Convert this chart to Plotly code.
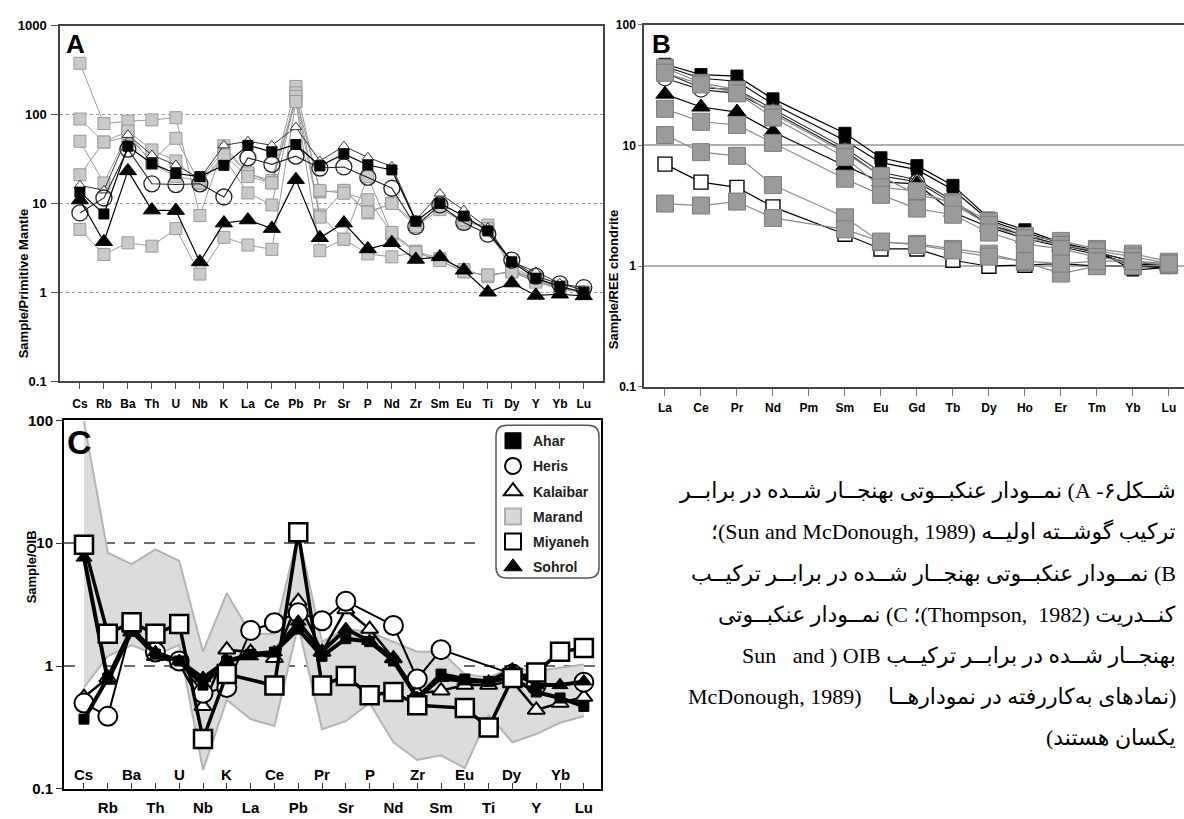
import math
import plotly.graph_objects as go

W, H = 1184, 819

# ---------------- element orders ----------------
spider_elements = ["Cs", "Rb", "Ba", "Th", "U", "Nb", "K", "La", "Ce", "Pb", "Pr",
                   "Sr", "P", "Nd", "Zr", "Sm", "Eu", "Ti", "Dy", "Y", "Yb", "Lu"]
ree_elements = ["La", "Ce", "Pr", "Nd", "Pm", "Sm", "Eu", "Gd", "Tb", "Dy",
                "Ho", "Er", "Tm", "Yb", "Lu"]

# ---------------- A: primitive-mantle normalised ----------------
pm_ahar = [13.4, 7.6, 44, 28, 21.7, 20, 26.8, 45, 38, 46, 26.4, 36, 27, 23.8, 6.3, 10, 7.2, 4.9, 2.2, 1.44, 1.16, 1.0]
pm_heris = [7.8, 11.5, 40.8, 16.6, 16.3, 16.6, 11.8, 32.5, 27.5, 34, 25, 25.7, 19.6, 14.8, 5.5, 9.6, 6.1, 4.5, 2.3, 1.52, 1.24, 1.13]
pm_kalaibar = [16, 14, 59, 35, 27, 19, 45, 50, 45, 72, 30, 44, 33, 26, 6.5, 12.9, 8.4, 5.3, 2.2, 1.7, 1.26, 1.05]
pm_sohrol = [10.9, 3.7, 23.2, 8.4, 8.3, 2.19, 6.0, 6.5, 5.2, 18.5, 4.1, 6.0, 3.07, 3.6, 2.34, 2.5, 1.77, 1.0, 1.27, 0.92, 0.95, 0.91]
pm_marand_1 = [377, 79, 84, 87, 92, 7.3, 44.5, 21.6, 18.1, 207, 13.4, 14, 7.8, 10, 6.0, 9.0, 6.0, 5.7, 1.9, 1.45, 1.16, 1.0]
pm_marand_2 = [89, 49, 56, 30, 54, 16.9, 32.6, 13.1, 9.6, 175, 7.4, 3.95, 20, 4.5, 2.8, 2.28, 1.7, 1.56, 1.7, 1.35, 1.1, 1.0]
pm_marand_3 = [50, 17, 62, 28, 20, 18, 40, 22, 17, 142, 7.0, 14, 8, 10, 5.5, 8.5, 6.5, 5.2, 1.8, 1.4, 1.15, 0.98]
pm_marand_4 = [21, 49, 65, 40, 30, 17, 35, 20, 17, 160, 14, 13, 11, 4.7, 2.9, 2.4, 1.8, 1.5, 1.75, 1.4, 1.1, 1.0]
pm_marand_5 = [5.1, 2.66, 3.6, 3.3, 5.2, 1.6, 4.15, 3.4, 3.04, 140, 2.94, 3.95, 2.7, 2.5, 2.8, 2.28, 1.7, 1.56, 1.7, 1.3, 1.1, 1.0]

# ---------------- B: chondrite-normalised REE ----------------
ree_ahar_1 = [47, 38.6, 37.5, 24.3, None, 12.6, 7.9, 6.8, 4.67, 2.5, 2.0, 1.57, 1.35, 0.93, 0.98]
ree_ahar_2 = [45, 36, 34, 22, None, 11, 7.2, 6.3, 4.3, 2.4, 1.9, 1.55, 1.3, 1.0, 0.97]
ree_heris = [36, 29, 27, 19, None, 9, 5.6, 5.0, 3.3, 2.2, 1.8, 1.5, 1.3, 1.1, 1.0]
ree_kalaibar = [40, 30, 29, 20, None, 9.5, 6.0, 5.2, 3.5, 2.2, 1.8, 1.5, 1.3, 1.1, 1.0]
ree_sohrol = [26.6, 20.8, 18.9, 13, None, 6.8, 5.0, 4.8, 2.8, 2.1, 1.7, 1.45, 1.25, 1.05, 1.0]
ree_miyaneh = [7.0, 4.97, 4.5, 3.1, None, 1.84, 1.39, 1.39, 1.12, 1.0, 1.02, 1.05, 1.0, 1.0, 1.0]
ree_marand_1 = [44, 33, 29, 18.3, None, 8.7, 5.6, 3.9, 3.4, 2.36, 1.78, 1.62, 1.39, 1.27, 1.09]
ree_marand_2 = [20.1, 15.7, 14.8, 10.5, None, 5.3, 3.9, 3.0, 2.67, 1.9, 1.53, 1.39, 1.19, 1.09, 1.02]
ree_marand_3 = [12.2, 8.8, 8.2, 4.7, None, 2.54, 1.58, 1.53, 1.39, 1.27, 1.08, 0.87, 1.0, 1.0, 1.02]
ree_marand_4 = [3.3, 3.18, 3.43, 2.51, None, 2.02, 1.6, 1.5, 1.35, 1.2, 1.1, 1.05, 1.1, 1.1, 1.05]
ree_marand_5 = [40, 32, 27, 17, None, 8, 4.5, 4.2, 3.3, 2.2, 1.7, 1.5, 1.35, 1.2, 1.05]

# ---------------- C: OIB-normalised ----------------
oib_ahar = [0.37, 0.8, 2.0, 1.25, 1.1, 0.7, 1.1, 1.25, 1.3, 2.0, 1.2, 1.67, 1.58, 1.1, 0.55, 0.86, 0.785, 0.75, 0.8, 0.615, 0.55, 0.47]
oib_heris = [0.50, 0.39, 2.1, 1.3, 1.1, 0.6, 0.67, 1.95, 2.25, 2.72, 2.34, 3.37, None, 2.14, 0.785, 1.36, None, None, 0.86, 0.7, None, 0.74]
oib_kalaibar = [0.56, 0.8, 1.9, 1.2, 1.05, 0.47, 1.36, 1.3, 1.16, 3.37, 1.3, 2.89, 2.0, 1.15, 0.6, 0.63, 0.7, 0.7, 0.75, 0.44, 0.5, 0.56]
oib_sohrol = [7.64, 0.76, 1.9, 1.3, 1.1, 0.8, 1.1, 1.2, 1.3, 2.3, 1.31, 2.0, 1.6, 1.15, 0.55, 0.8, 0.75, 0.75, 0.94, 0.7, 0.7, 0.75]
oib_miyaneh = [9.73, 1.83, 2.27, 1.83, 2.2, 0.255, 0.86, None, 0.695, 12.25, 0.695, 0.83, 0.58, 0.615, 0.48, None, 0.455, 0.316, 0.8, 0.885, 1.31, 1.40]
oib_marand_high = [98, 8.36, 6.76, 8.89, 7.18, 1.31, 3.92, 1.83, 1.83, 12, 1.58, 2.01, 1.89, 1.58, 1.31, 1.31, 0.86, 0.81, 0.97, 0.91, 0.97, 1.03]
oib_marand_low = [0.67, 1.2, 1.48, 1.24, 1.48, 0.143, 0.53, 0.37, 0.325, 2.14, 0.306, 0.356, 0.50, 0.24, 0.172, 0.188, 0.148, 0.4, 0.24, 0.28, 0.346, 0.39]

groups = ["Ahar", "Heris", "Kalaibar", "Marand", "Miyaneh", "Sohrol"]

caption_lines = [
    "شــکل۶- A) نمــودار عنکبــوتی بهنجــار شــده در برابــر",
    "ترکیب گوشــته اولیــه (Sun and McDonough, 1989)؛",
    "B) نمــودار عنکبــوتی بهنجــار شــده در برابــر ترکیــب",
    "کنــدریت (Thompson,  1982)؛ C) نمــودار عنکبــوتی",
    "بهنجــار شــده در برابــر ترکیــب OIB\u200f (\u200f Sun   and",
    "(نمادهای به‌کاررفته در نمودارهــا",
    "یکسان هستند)",
]
caption_line6_latin = "McDonough, 1989)"

SANS = "Liberation Sans, Arial, sans-serif"
SERIF = "Liberation Serif, Times New Roman, DejaVu Sans, serif"


def px_x(p):
    return p / W


def px_y(p):
    return 1 - p / H


fig = go.Figure()

sp_x = list(range(len(spider_elements)))
ree_x = list(range(len(ree_elements)))


def series(xs, ys, xa, ya, sym, size, fill, edge, edge_w, line_color, line_w):
    fig.add_trace(go.Scatter(
        x=xs, y=ys, xaxis=xa, yaxis=ya, mode="lines+markers", connectgaps=True,
        showlegend=False, hoverinfo="skip",
        line=dict(color=line_color, width=line_w),
        marker=dict(symbol=sym, size=size, color=fill, line=dict(color=edge, width=edge_w)),
    ))


# ---- Panel A ----
for vals in [pm_marand_1, pm_marand_2, pm_marand_3, pm_marand_4, pm_marand_5]:
    series(sp_x, vals, "x", "y", "square", 12, "#c9c9c9", "#9a9a9a", 1, "#9a9a9a", 1)
series(sp_x, pm_kalaibar, "x", "y", "triangle-up", 10, "white", "#333", 1, "#333", 1)
series(sp_x, pm_heris, "x", "y", "circle", 16, "rgba(255,255,255,0)", "#222", 1.3, "#222", 1.1)
series(sp_x, pm_ahar, "x", "y", "square", 10, "black", "black", 1, "black", 1.2)
series(sp_x, pm_sohrol, "x", "y", "triangle-up", 15, "black", "black", 1, "black", 1.2)

# ---- Panel B ----
series(ree_x, ree_ahar_1, "x2", "y2", "square", 12, "black", "black", 1, "black", 1.2)
series(ree_x, ree_ahar_2, "x2", "y2", "square", 11, "black", "black", 1, "black", 1.2)
series(ree_x, ree_heris, "x2", "y2", "circle", 15, "white", "#222", 1.2, "#222", 1.1)
series(ree_x, ree_kalaibar, "x2", "y2", "triangle-up", 12, "white", "#222", 1.2, "#222", 1.1)
series(ree_x, ree_sohrol, "x2", "y2", "triangle-up", 16, "black", "black", 1, "black", 1.2)
series(ree_x, ree_miyaneh, "x2", "y2", "square", 14, "white", "black", 1.4, "black", 1.2)
for vals in [ree_marand_1, ree_marand_5, ree_marand_2, ree_marand_3, ree_marand_4]:
    series(ree_x, vals, "x2", "y2", "square", 17, "#9b9b9b", "#7d7d7d", 1, "#8a8a8a", 1.2)

# ---- Panel C ----
fig.add_trace(go.Scatter(x=sp_x, y=oib_marand_low, xaxis="x3", yaxis="y3", mode="lines",
                         line=dict(color="#b4b4b4", width=2), showlegend=False, hoverinfo="skip"))
fig.add_trace(go.Scatter(x=sp_x, y=oib_marand_high, xaxis="x3", yaxis="y3", mode="lines",
                         fill="tonexty", fillcolor="#dcdcdc",
                         line=dict(color="#b4b4b4", width=2), showlegend=False, hoverinfo="skip"))
series(sp_x, oib_kalaibar, "x3", "y3", "triangle-up", 15, "white", "black", 2, "black", 2.5)
series(sp_x, oib_heris, "x3", "y3", "circle", 19, "white", "black", 2, "black", 2)
series(sp_x, oib_ahar, "x3", "y3", "square", 10, "black", "black", 1, "black", 4)
series(sp_x, oib_sohrol, "x3", "y3", "triangle-up", 14, "black", "black", 1, "black", 4)
series(sp_x, oib_miyaneh, "x3", "y3", "square", 18, "white", "black", 2.5, "black", 3.5)

# legend entries
legend_style = {
    "Ahar": dict(symbol="square", color="black", line=dict(color="black", width=1)),
    "Heris": dict(symbol="circle", color="white", line=dict(color="black", width=2)),
    "Kalaibar": dict(symbol="triangle-up", color="white", line=dict(color="black", width=2)),
    "Marand": dict(symbol="square", color="#d8d8d8", line=dict(color="#b0b0b0", width=2)),
    "Miyaneh": dict(symbol="square", color="white", line=dict(color="black", width=2)),
    "Sohrol": dict(symbol="triangle-up", color="black", line=dict(color="black", width=1)),
}
for g in groups:
    fig.add_trace(go.Scatter(x=[None], y=[None], xaxis="x3", yaxis="y3", mode="markers",
                             name=g, legendgroup=g, showlegend=True,
                             marker=dict(size=16, **legend_style[g])))

bold = dict(family=SANS, color="black", weight="bold")

log_ticks = [0.1, 1, 10, 100, 1000]
log_text = ["0.1", "1", "10", "100", "1000"]

fig.update_layout(
    width=W, height=H, autosize=False,
    margin=dict(l=0, r=0, t=0, b=0),
    paper_bgcolor="white", plot_bgcolor="white",
    showlegend=True,
    legend=dict(x=px_x(493), y=px_y(425), xanchor="left", yanchor="top",
                bgcolor="rgba(0,0,0,0)", traceorder="grouped", tracegroupgap=4,
                font=dict(family=SANS, size=14, color="#222", weight="bold"),
                itemclick=False, itemdoubleclick=False),
    xaxis=dict(domain=[px_x(60), px_x(603)], range=[-0.83, 21.8],
               tickvals=sp_x, ticktext=spider_elements, ticks="outside", ticklen=6,
               tickcolor="#555", tickfont=dict(size=12, **bold), ticklabelstandoff=5,
               showline=True, linecolor="#444", linewidth=1.5, mirror=True,
               showgrid=False, zeroline=False, anchor="y"),
    yaxis=dict(domain=[px_y(380), px_y(17)], type="log", range=[-1, 3],
               tickvals=log_ticks, ticktext=log_text, ticks="outside", ticklen=7,
               tickcolor="#555", tickfont=dict(size=13, **bold), ticklabelstandoff=2,
               showline=True, linecolor="#444", linewidth=1.5, mirror=True,
               showgrid=True, gridcolor="#9a9a9a", gridwidth=1, griddash="3px,3px",
               zeroline=False, anchor="x"),
    xaxis2=dict(domain=[px_x(644), 1.0], range=[-0.583, 14.42],
                tickvals=ree_x, ticktext=ree_elements, ticks="outside", ticklen=7,
                tickcolor="#777", tickfont=dict(size=12, **bold), ticklabelstandoff=2,
                showline=True, linecolor="#444", linewidth=1.5, mirror=True,
                showgrid=False, zeroline=False, anchor="y2"),
    yaxis2=dict(domain=[px_y(386), px_y(16)], type="log", range=[-1, 2],
                tickvals=log_ticks[:4], ticktext=log_text[:4], ticks="outside", ticklen=4,
                tickcolor="#777", tickfont=dict(size=12, **bold),
                showline=True, linecolor="#444", linewidth=1.5, mirror=False,
                showgrid=True, gridcolor="#b0b0b0", gridwidth=1.5,
                zeroline=False, anchor="x2"),
    xaxis3=dict(domain=[px_x(64), px_x(601)], range=[-0.84, 21.72],
                tickvals=sp_x,
                ticktext=[e if i % 2 == 1 else "" for i, e in enumerate(spider_elements)],
                ticks="inside", ticklen=6, tickcolor="#333",
                tickfont=dict(size=15, **bold), ticklabelstandoff=4,
                showline=True, linecolor="black", linewidth=2, mirror=True,
                showgrid=False, zeroline=False, anchor="y3"),
    yaxis3=dict(domain=[px_y(796.5), px_y(420)], type="log", range=[-1, 2],
                tickvals=log_ticks[:4], ticktext=log_text[:4], ticks="outside", ticklen=6,
                tickcolor="#333", tickfont=dict(size=15, **bold),
                showline=True, linecolor="black", linewidth=2, mirror=True,
                showgrid=True, gridcolor="#6a6a6a", gridwidth=1.5, griddash="11px,9px",
                zeroline=False, anchor="x3"),
)

annotations = []
# upper row of element labels inside panel C
for i, e in enumerate(spider_elements):
    if i % 2 == 0:
        annotations.append(dict(x=i, y=0.04, xref="x3", yref="y3 domain", text=e,
                                showarrow=False, yanchor="middle",
                                font=dict(size=15, **bold)))

# panel letters
annotations += [
    dict(x=px_x(64), y=px_y(18), xref="paper", yref="paper", text="A", showarrow=False,
         xanchor="left", yanchor="top", font=dict(size=26, **bold)),
    dict(x=px_x(650), y=px_y(18), xref="paper", yref="paper", text="B", showarrow=False,
         xanchor="left", yanchor="top", font=dict(size=26, **bold)),
    dict(x=px_x(65), y=px_y(421), xref="paper", yref="paper", text="C", showarrow=False,
         xanchor="left", yanchor="top", font=dict(size=34, **bold)),
]

# y-axis titles
annotations += [
    dict(x=px_x(14), y=px_y(202), xref="paper", yref="paper", text="Sample/Primitive Mantle",
         textangle=-90, showarrow=False, font=dict(size=13, **bold)),
    dict(x=px_x(613), y=px_y(204), xref="paper", yref="paper", text="Sample/REE chondrite",
         textangle=-90, showarrow=False, font=dict(size=13, **bold)),
    dict(x=px_x(22), y=px_y(609), xref="paper", yref="paper", text="Sample/OIB",
         textangle=-90, showarrow=False, font=dict(size=13, **bold)),
]

# caption (right-to-left paragraph, one line per annotation)
CAP = dict(family=SERIF, size=22, color="black")
line_y0, line_dy = 492, 42
for k, line in enumerate(caption_lines):
    annotations.append(dict(x=px_x(1178), y=px_y(line_y0 + k * line_dy), xref="paper", yref="paper",
                            text="\u202b" + line + "\u202c", showarrow=False,
                            xanchor="right", yanchor="middle", font=CAP))
annotations.append(dict(x=px_x(686), y=px_y(line_y0 + 5 * line_dy), xref="paper", yref="paper",
                        text=caption_line6_latin, showarrow=False,
                        xanchor="left", yanchor="middle", font=CAP))

fig.update_layout(annotations=annotations)


# legend frame: white backing that masks the grid, then a rounded outline
def rounded_rect(x0, y0, x1, y1, r):
    def P(x, y):
        return f"{px_x(x):.5f},{px_y(y):.5f}"
    return (f"M {P(x0 + r, y0)} L {P(x1 - r, y0)} Q {P(x1, y0)} {P(x1, y0 + r)} "
            f"L {P(x1, y1 - r)} Q {P(x1, y1)} {P(x1 - r, y1)} "
            f"L {P(x0 + r, y1)} Q {P(x0, y1)} {P(x0, y1 - r)} "
            f"L {P(x0, y0 + r)} Q {P(x0, y0)} {P(x0 + r, y0)} Z")


fig.add_shape(type="rect", xref="paper", yref="paper", layer="above",
              x0=px_x(478), x1=px_x(599.5), y0=px_y(583), y1=px_y(423),
              line=dict(width=0), fillcolor="white")
fig.add_shape(type="path", xref="paper", yref="paper", layer="above",
              path=rounded_rect(496, 425, 599, 581, 11),
              line=dict(color="#555", width=1.5), fillcolor="rgba(0,0,0,0)")

fig.write_html("out.html")
